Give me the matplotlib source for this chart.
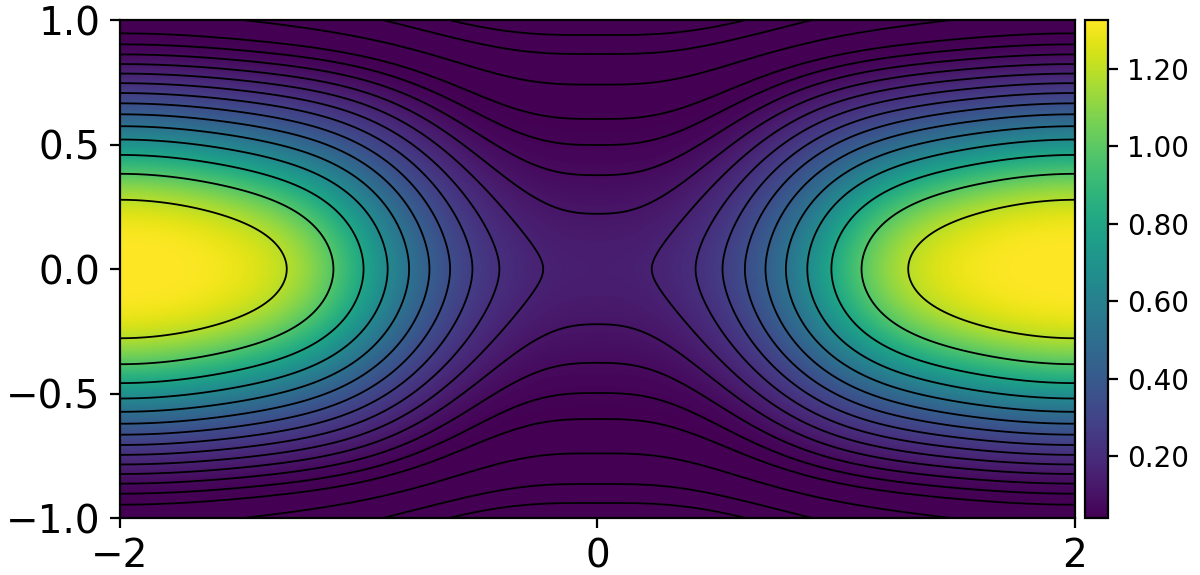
import numpy as np
import matplotlib
matplotlib.use("Agg")
import matplotlib.pyplot as plt

# ---- axes, ticks -----------------------------------------------------------
x_range = [-2.0, 2.0]
y_range = [-1.0, 1.0]
x_ticks = [-2, 0, 2]
y_ticks = [-1.0, -0.5, 0.0, 0.5, 1.0]
cbar_ticks = [0.20, 0.40, 0.60, 0.80, 1.00, 1.20]

# ---- flux-function model: O-points at x=+-2, X-point at the origin ---------
# flux along the mid-plane (u = 0 at O-point, u = 1 at X-point)
mid_coeffs = [3.0, 7.3, 1.4, 3.59]
# vertical flux profile through the O-point: a*y^2 + b*y^4 + c*y^6
edge_coeffs = [11.98, 13.13, -10.11]
# vertical flux profile through the X-point: (|y|/b)^q
center_width, center_power = 0.27, 1.64
# extra flux between O- and X-point (amplitude, height of maximum)
bulge = [0.84, 0.65]

# contour levels drawn (flux units, O-point = 0)
contour_levels = [1, 2, 3, 4, 5, 6, 7, 8, 9, 10, 11, 12, 13, 14, 15.5, 17, 18]

# ---- plotted quantity as a function of flux --------------------------------
color_min, color_max = 0.04, 1.326
color_decay = [0.235, 0.994, 12.0, 8.0]

nx, ny = 801, 401
x = np.linspace(x_range[0], x_range[1], nx)
y = np.linspace(y_range[0], y_range[1], ny)
X, Y = np.meshgrid(x, y)

u = 0.5 * (1.0 + np.cos(np.pi * X / 2.0))
a1, a2, p1, p2 = mid_coeffs
H = a1 * u + a2 * (1.0 - (1.0 - u) ** p1) ** p2
h_x = a1 + a2  # flux at the X-point

Y2 = Y ** 2
G_edge = edge_coeffs[0] * Y2 + edge_coeffs[1] * Y2 ** 2 + edge_coeffs[2] * Y2 ** 3
eps = 0.04
G_center = ((Y2 + eps ** 2) ** (center_power / 2) - eps ** center_power) / center_width ** center_power

M = 1.0 - (G_edge - G_center) / h_x
s2 = Y2 / bulge[1] ** 2
R = bulge[0] * 4.0 * u * (1.0 - u) * 2.0 * s2 / (1.0 + s2 ** 2)
psi = G_edge + H * M + R

al, be, t2, m2 = color_decay
field = color_min + (color_max - color_min) * np.exp(-al * psi ** 2 / (psi + be) - (psi / t2) ** m2)

fig = plt.figure(figsize=(6, 2.875), dpi=200)
ax = fig.add_axes([0.1, 0.0991, 0.7958, 0.8661])
cax = fig.add_axes([0.9042, 0.0991, 0.0191, 0.8661])

im = ax.imshow(field, extent=[x_range[0], x_range[1], y_range[0], y_range[1]],
               origin="lower", aspect="auto", cmap="viridis",
               interpolation="bilinear")
ax.contour(X, Y, psi, levels=contour_levels, colors="k", linewidths=0.65)

ax.set_xlim(x_range)
ax.set_ylim(y_range)
ax.set_xticks(x_ticks)
ax.set_yticks(y_ticks)
ax.tick_params(labelsize=14)

cb = fig.colorbar(im, cax=cax, ticks=cbar_ticks, format="%.2f")
cb.ax.tick_params(labelsize=10)

fig.savefig("out.png", dpi=200)
